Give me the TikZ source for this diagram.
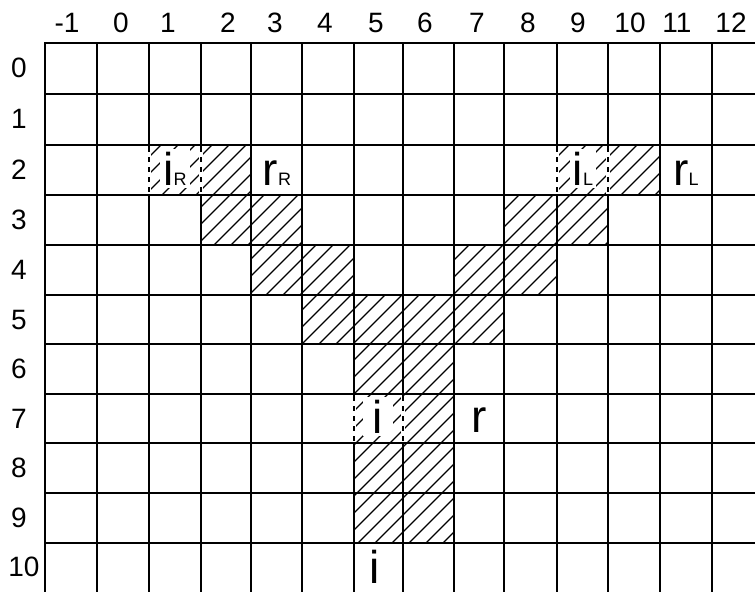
\documentclass[tikz,border=0pt]{standalone}
\usepackage{fontspec}
\setmainfont{Liberation Sans}
\begin{document}
\begin{tikzpicture}[x=1pt,y=-1pt,
  gridline/.style={line width=1.8pt},
  hatchline/.style={line width=1.2pt},
  dashedborder/.style={line width=1.6pt, dash pattern=on 5pt off 5pt},
  whiteborder/.style={draw=white, line width=3.5pt},
  num/.style={font=\fontsize{28}{28}\selectfont, inner sep=0pt, anchor=center},
  letter/.style={font=\fontsize{46}{46}\selectfont, inner sep=0pt, anchor=base},
  ilabel/.style={letter, fill=white, inner sep=3pt}
]
\def\xs{{45,97,149,201,251,302,354,403,454,504,557,608,660,712,763}}
\def\ys{{43,94,145,195,245,295,344,394,443,493,543,593}}
\newcommand\subl[1]{{\fontsize{18}{18}\selectfont #1}}
\useasboundingbox (0,0) rectangle (755,592);
% hatching
\begin{scope}
  \clip \foreach \ci/\rj in {1/2,2/2,9/2,10/2,2/3,3/3,8/3,9/3,3/4,4/4,7/4,8/4,4/5,5/5,6/5,7/5,5/6,6/6,5/7,6/7,5/8,6/8,5/9,6/9}
    { ({\xs[\ci+1]},{\ys[\rj]}) rectangle ({\xs[\ci+2]},{\ys[\rj+1]}) };
  \draw[hatchline] \foreach \k in {0,17,...,1400} { (\k,0) -- ++(-700,700) };
\end{scope}
% grid
\foreach \j in {0,...,10} \draw[gridline] (44.1,{\ys[\j]}) -- (755,{\ys[\j]});
\foreach \i in {0,...,13} \draw[gridline] ({\xs[\i]},42.1) -- ({\xs[\i]},592);
% dashed borders of the i cells
\foreach \ci/\rj in {1/2,9/2,5/7} {
  \foreach \e in {1,2} {
    \draw[whiteborder] ({\xs[\ci+\e]},{\ys[\rj]+1.5}) -- ({\xs[\ci+\e]},{\ys[\rj+1]-1.5});
    \draw[dashedborder] ({\xs[\ci+\e]},{\ys[\rj]+2}) -- ({\xs[\ci+\e]},{\ys[\rj+1]-1});
  }
}
% column labels
\foreach \lab/\x in {-1/67,0/121,1/168,2/228,3/275,4/325,5/376,6/425,7/477,8/528,9/578,10/630,11/677,12/731}
  \node[num] (col\x) at (\x,23) {\lab};
% row labels
\foreach \j/\y in {0/68,1/119,2/170,3/220,4/270,5/320,6/369,7/419,8/468,9/518}
  \node[num] (row\j) at (19,\y) {\j};
\node[num] (row10) at (24,567) {10};
% letters
\node[ilabel] (iR) at (175,185) {i\subl{R}};
\node[letter] (rR) at (277,185) {r\subl{R}};
\node[ilabel] (iL) at (583,185) {i\subl{L}};
\node[letter] (rL) at (686,185) {r\subl{L}};
\node[ilabel, minimum width=30pt] (i7) at (378,433) {i};
\node[letter] (r7) at (479,432) {r};
\node[letter] (i10) at (375,583) {i};
\end{tikzpicture}
\end{document}
